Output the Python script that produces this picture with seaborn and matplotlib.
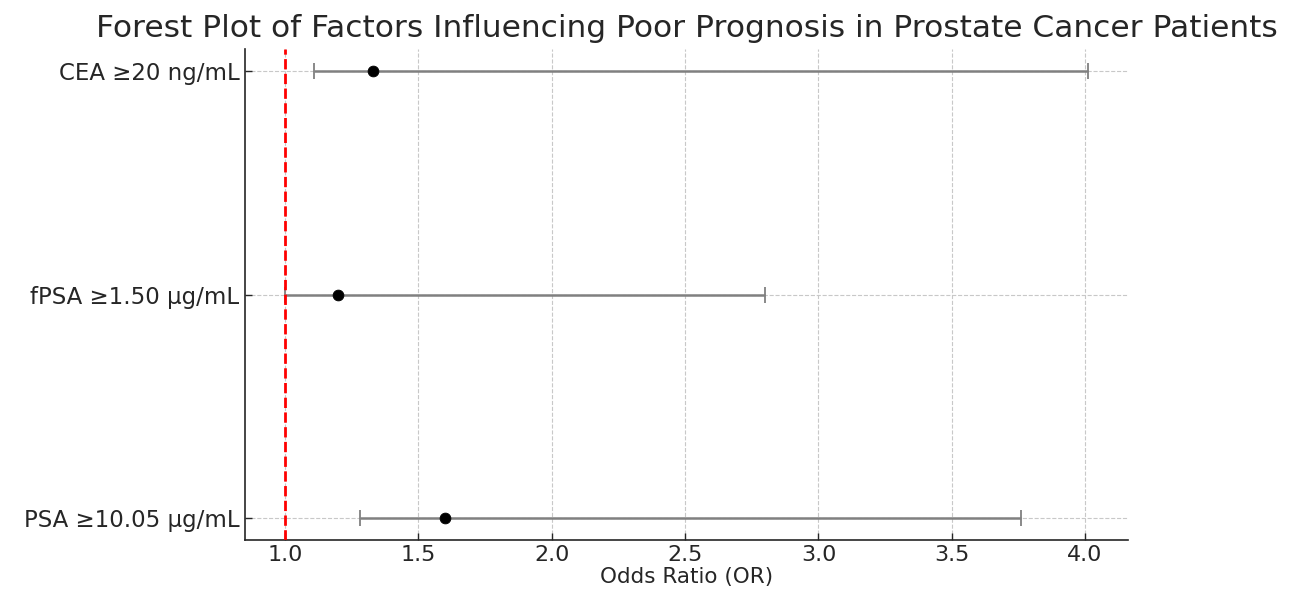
import matplotlib
matplotlib.use("Agg")
import matplotlib.pyplot as plt
import seaborn as sns
import pandas as pd

# odds ratios and 95% CI (bottom to top)
factors = ["PSA ≥10.05 μg/mL", "fPSA ≥1.50 μg/mL", "CEA ≥20 ng/mL"]
odds_ratio = [1.60, 1.20, 1.33]
ci_low = [1.28, 1.00, 1.11]
ci_high = [3.76, 2.80, 4.01]

df = pd.DataFrame({"factor": factors, "OR": odds_ratio,
                   "low": ci_low, "high": ci_high})
df["pos"] = range(len(df))

sns.set_style("ticks")
plt.rcParams["font.family"] = ["DejaVu Sans"]
plt.rcParams["text.color"] = "#262626"
plt.rcParams["xtick.color"] = "#262626"
plt.rcParams["ytick.color"] = "#262626"

fig = plt.figure(figsize=(13.1, 5.92), dpi=100)
ax = fig.add_axes([0.187, 0.088, 0.674, 0.829])

ax.errorbar(df["OR"], df["pos"],
            xerr=[df["OR"] - df["low"], df["high"] - df["OR"]],
            fmt="none", ecolor="gray", elinewidth=1.8, capsize=6,
            capthick=1.3, zorder=2)
sns.scatterplot(data=df, x="OR", y="pos", color="black", s=60,
                edgecolor="black", zorder=3, ax=ax)

ax.axvline(1.0, color="red", linestyle="--", linewidth=2, zorder=4)

ax.set_yticks(df["pos"])
ax.set_yticklabels(df["factor"])
ax.grid(True, linestyle="--", color="#c8c8c8", linewidth=0.8)
ax.set_axisbelow(True)
ax.tick_params(axis="y", labelsize=16.5)
ax.tick_params(axis="x", labelsize=16)
ax.tick_params(length=5, width=1, direction="in", pad=4)
ax.set_xlabel("Odds Ratio (OR)", fontsize=15.5, labelpad=1)
ax.set_ylabel("")
ax.set_title("Forest Plot of Factors Influencing Poor Prognosis in Prostate Cancer Patients",
             fontsize=22.5, pad=9)
for s in ["left", "bottom"]:
    ax.spines[s].set_color("#262626")
    ax.spines[s].set_linewidth(1.2)
sns.despine(ax=ax)

fig.savefig("out.png", dpi=100)
